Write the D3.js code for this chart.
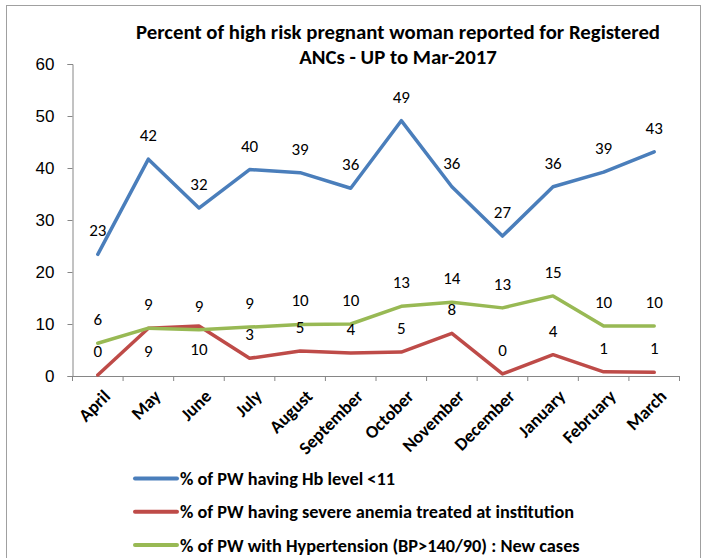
<!DOCTYPE html>
<html>
<head>
    <meta charset="utf-8">
    <title>High risk pregnant woman</title>
    <script src="https://d3js.org/d3.v7.min.js"></script>
    <style>
        body { margin: 0; padding: 0; background: #fff; overflow: hidden; }
        svg { font-family: Carlito, Lato, "Open Sans", sans-serif; }
    </style>
</head>
<body>
    <script>
        var width = 702, height = 558;

        var months = ["April", "May", "June", "July", "August", "September", "October",
            "November", "December", "January", "February", "March"];
        var hbLow = [23.4, 41.7, 32.3, 39.7, 39.1, 36.1, 49.1, 36.4, 26.9, 36.4, 39.2, 43.1];
        var anemia = [0.2, 9.2, 9.6, 3.4, 4.8, 4.4, 4.6, 8.2, 0.4, 4.1, 0.8, 0.7];
        var hyper = [6.3, 9.2, 8.9, 9.4, 9.9, 10.0, 13.4, 14.2, 13.1, 15.4, 9.6, 9.6];
        var yTicks = [0, 10, 20, 30, 40, 50, 60];
        var titleLines = ["Percent of high risk pregnant woman reported for Registered", "ANCs - UP to Mar-2017"];
        var seriesNames = ["% of PW having Hb level <11",
            "% of PW having severe anemia treated at institution",
            "% of PW with Hypertension (BP>140/90) : New cases"];

        var series = [
            { name: seriesNames[0], values: hbLow, color: "#4a7ebb", below: [] },
            { name: seriesNames[1], values: anemia, color: "#be4b48", below: [1, 2] },
            { name: seriesNames[2], values: hyper, color: "#98b954", below: [] }
        ];

        var svg = d3.select("body").append("svg")
            .attr("width", width)
            .attr("height", height);

        // chart border
        svg.append("rect")
            .attr("x", 6.5).attr("y", 5.5)
            .attr("width", 694).attr("height", 560)
            .attr("fill", "none")
            .attr("stroke", "#a0a0a0");

        var x = d3.scaleBand().domain(months).range([72.5, 679.5]);
        var y = d3.scaleLinear().domain([0, 60]).range([376, 64]);

        // title
        svg.append("text")
            .attr("x", 398).attr("y", 39)
            .attr("text-anchor", "middle")
            .attr("font-weight", "bold")
            .attr("font-size", 20.8)
            .selectAll("tspan").data(titleLines).enter().append("tspan")
            .attr("x", 398)
            .attr("dy", (d, i) => i ? 25 : 0)
            .text(d => d);

        // y axis
        var yAxis = svg.append("g")
            .attr("transform", "translate(72.5,0)")
            .call(d3.axisLeft(y).tickValues(yTicks).tickSize(5).tickPadding(13));
        yAxis.selectAll("text").attr("font-size", 17).attr("fill", "#000").attr("font-family", null);
        yAxis.selectAll("line,path").attr("stroke", "#868686");

        // x axis
        var xAxis = svg.append("g")
            .attr("transform", "translate(0,376)")
            .call(d3.axisBottom(x).tickSize(0).tickFormat(""));
        xAxis.select("path").attr("stroke", "#868686");
        var edges = months.map(m => x(m)).concat([x.range()[1]]);
        xAxis.selectAll(".edge").data(edges).enter().append("line")
            .attr("x1", d => d).attr("x2", d => d)
            .attr("y1", 0).attr("y2", 5)
            .attr("stroke", "#868686");

        svg.append("g").selectAll("text").data(months).enter().append("text")
            .attr("transform", d => "translate(" + (x(d) + x.bandwidth() / 2 + 9) + ",393) rotate(-45)")
            .attr("text-anchor", "end")
            .attr("font-weight", "bold")
            .attr("font-size", 18)
            .attr("dy", "0.35em")
            .text(d => d);

        var line = d3.line()
            .x((d, i) => x(months[i]) + x.bandwidth() / 2)
            .y(d => y(d));

        series.forEach(s => {
            svg.append("path")
                .datum(s.values)
                .attr("d", line)
                .attr("fill", "none")
                .attr("stroke", s.color)
                .attr("stroke-width", 3.5)
                .attr("stroke-linejoin", "round")
                .attr("stroke-linecap", "round");
        });

        series.forEach(s => {
            svg.append("g").selectAll("text").data(s.values).enter().append("text")
                .attr("x", (d, i) => x(months[i]) + x.bandwidth() / 2)
                .attr("y", (d, i) => y(d) + (s.below.indexOf(i) >= 0 ? 23 : -24))
                .attr("dy", "0.35em")
                .attr("text-anchor", "middle")
                .attr("font-size", 17)
                .text(d => Math.round(d));
        });

        // legend
        var legend = svg.append("g").selectAll("g").data(series).enter().append("g")
            .attr("transform", (d, i) => "translate(135," + (478.5 + i * 33.3) + ")");
        legend.append("line")
            .attr("x1", 0).attr("x2", 42)
            .attr("stroke", d => d.color)
            .attr("stroke-width", 4)
            .attr("stroke-linecap", "round");
        legend.append("text")
            .attr("x", 45)
            .attr("dy", "0.35em")
            .attr("font-weight", "bold")
            .attr("font-size", 18.3)
            .text(d => d.name);
    </script>
</body>
</html>
